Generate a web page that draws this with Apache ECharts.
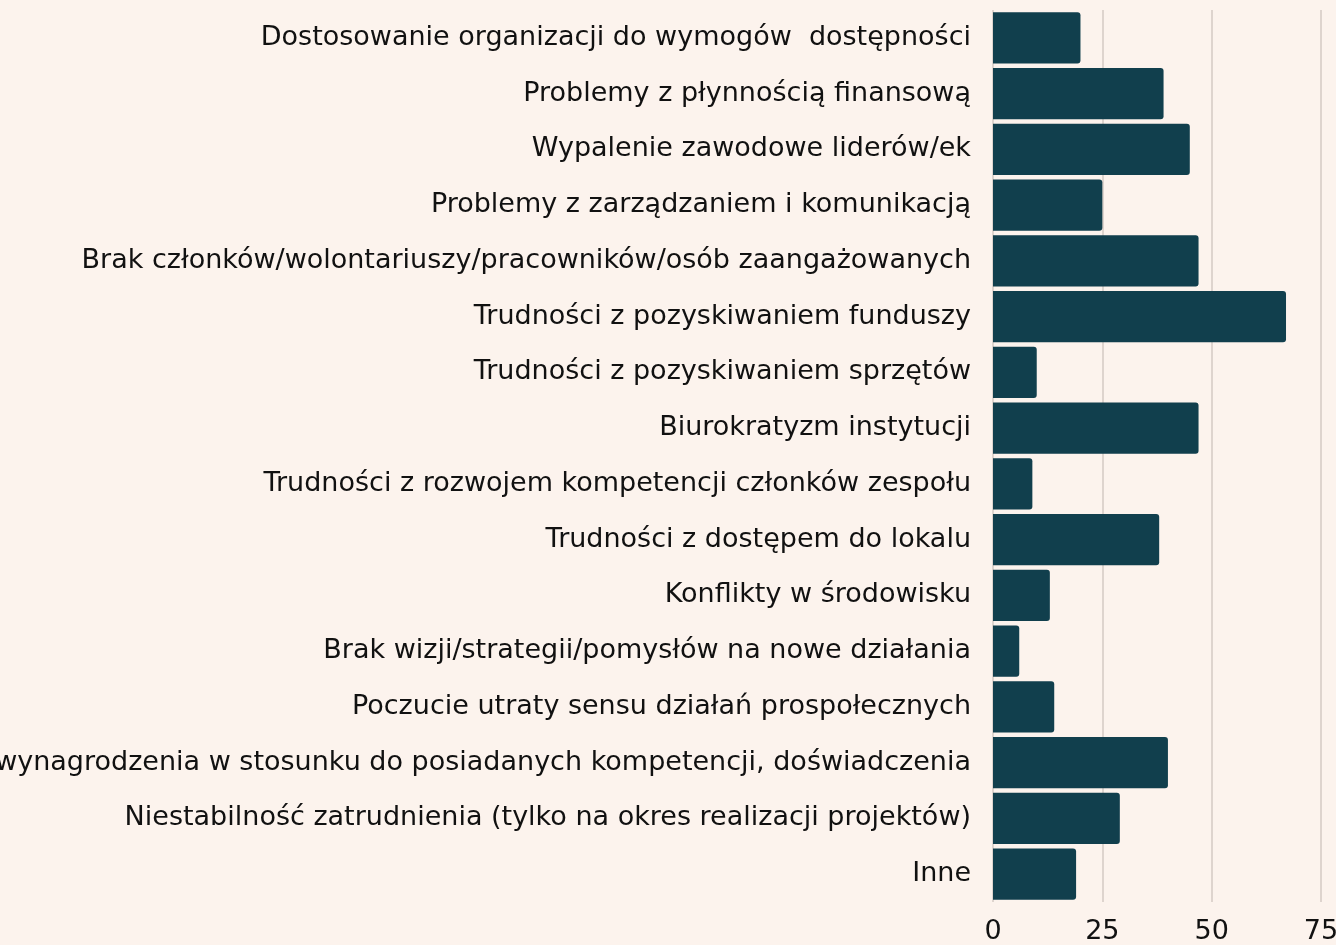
<!DOCTYPE html>
<html>
<head>
<meta charset="utf-8">
<script src="https://cdn.jsdelivr.net/npm/echarts@6/dist/echarts.min.js"></script>
<style>
  html, body { margin: 0; padding: 0; background: #fcf3ed; }
  #chart { width: 1336px; height: 945px; }
</style>
</head>
<body>
<div id="chart"></div>
<script>
// categories, top to bottom as shown
const categories = [
  'Dostosowanie organizacji do wymogów  dostępności',
  'Problemy z płynnością finansową',
  'Wypalenie zawodowe liderów/ek',
  'Problemy z zarządzaniem i komunikacją',
  'Brak członków/wolontariuszy/pracowników/osób zaangażowanych',
  'Trudności z pozyskiwaniem funduszy',
  'Trudności z pozyskiwaniem sprzętów',
  'Biurokratyzm instytucji',
  'Trudności z rozwojem kompetencji członków zespołu',
  'Trudności z dostępem do lokalu',
  'Konflikty w środowisku',
  'Brak wizji/strategii/pomysłów na nowe działania',
  'Poczucie utraty sensu działań prospołecznych',
  'Niskie wynagrodzenia w stosunku do posiadanych kompetencji, doświadczenia',
  'Niestabilność zatrudnienia (tylko na okres realizacji projektów)',
  'Inne'
];
const counts = [20, 39, 45, 25, 47, 67, 10, 47, 9, 38, 13, 6, 14, 40, 29, 19];
const ticks = [0, 25, 50, 75];

const chart = echarts.init(document.getElementById('chart'), null, { renderer: 'canvas' });
const font = 'DejaVu Sans';

chart.setOption({
  backgroundColor: '#fcf3ed',
  animation: false,
  // labels run off the left edge on purpose, so no auto fitting
  grid: { left: 993, right: 15, top: 10, bottom: 43, containLabel: false, outerBoundsMode: 'none' },
  xAxis: {
    type: 'value',
    min: ticks[0],
    max: ticks[ticks.length - 1],
    interval: 25,
    axisLine: { show: false },
    axisTick: { show: false },
    splitLine: { show: true, lineStyle: { color: '#d5cac3', width: 1.5 } },
    axisLabel: { color: '#111', fontSize: 27, fontFamily: font, margin: 16 }
  },
  yAxis: {
    type: 'category',
    inverse: true,
    data: categories,
    axisLine: { show: false },
    axisTick: { show: false },
    axisLabel: { color: '#111', fontSize: 27, fontFamily: font, margin: 22 }
  },
  series: [{
    type: 'bar',
    data: counts,
    barCategoryGap: '8%',
    itemStyle: { color: '#113f4d', borderRadius: [0, 3, 3, 0] }
  }]
});
</script>
</body>
</html>
